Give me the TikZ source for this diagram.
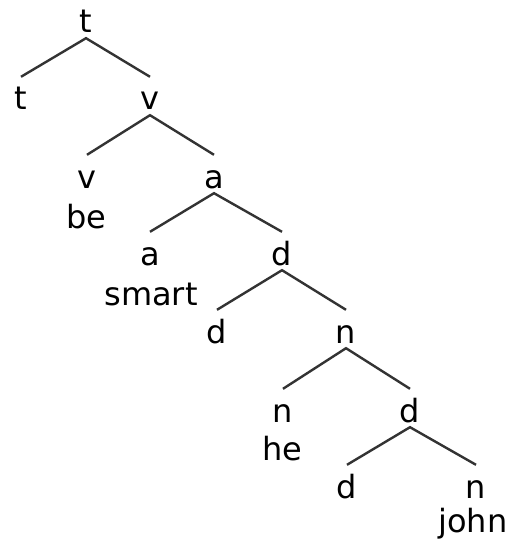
\documentclass[tikz,border=0pt]{standalone}
\usepackage{fontspec}
\setmainfont{DejaVu Sans}
\begin{document}
\begin{tikzpicture}[x=1pt,y=-1pt,
  cat/.style={font=\fontsize{32}{36}\selectfont, inner sep=0pt, anchor=base,
              text height=33pt, text depth=5pt},
  word/.style={font=\fontsize{32}{36}\selectfont, inner sep=0pt, anchor=base},
  branch/.style={line width=2.4pt, draw=black!80}]
\useasboundingbox (0,0) rectangle (512,548);
% categories
\node[cat] (t0) at (86,33) {t};
\node[cat] (t1) at (21,110) {t};
\node[cat] (v0) at (150,110) {v};
\node[cat] (v1) at (87,188) {v};
\node[cat] (a0) at (214,188) {a};
\node[cat] (a1) at (150,265) {a};
\node[cat] (d0) at (282,265) {d};
\node[cat] (d1) at (217,343) {d};
\node[cat] (n0) at (346,343) {n};
\node[cat] (n1) at (283,422) {n};
\node[cat] (d2) at (410,422) {d};
\node[cat] (d3) at (347,498) {d};
\node[cat] (n2) at (476,498) {n};
% lexical items
\node[word] (be) at (86,228) {be};
\node[word] (smart) at (151,305) {smart};
\node[word] (he) at (282,460) {he};
\node[word] (john) at (473,532) {john};
% branches
\draw[branch] (t1.north) -- (t0.south) -- (v0.north);
\draw[branch] (v1.north) -- (v0.south) -- (a0.north);
\draw[branch] (a1.north) -- (a0.south) -- (d0.north);
\draw[branch] (d1.north) -- (d0.south) -- (n0.north);
\draw[branch] (n1.north) -- (n0.south) -- (d2.north);
\draw[branch] (d3.north) -- (d2.south) -- (n2.north);
\end{tikzpicture}
\end{document}
